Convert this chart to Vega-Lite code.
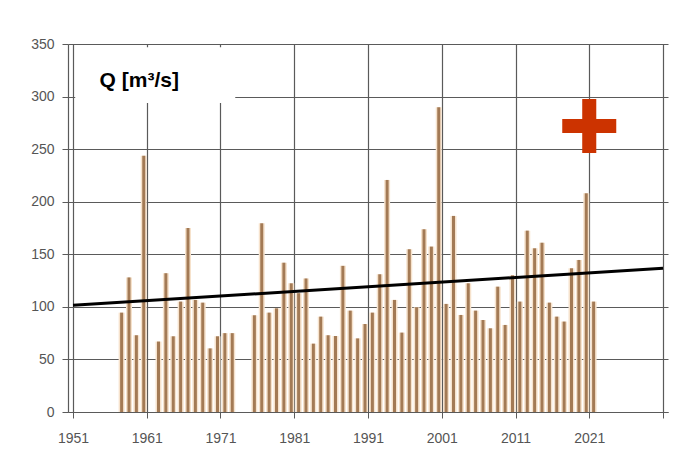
{
  "$schema": "https://vega.github.io/schema/vega-lite/v6.json",
  "width": 600,
  "height": 368,
  "autosize": "none",
  "padding": {"left": 68, "top": 44, "right": 18, "bottom": 64},
  "background": "white",
  "config": {
    "view": {"stroke": null},
    "axis": {
      "labelFont": "Liberation Sans",
      "labelFontSize": 14,
      "labelColor": "#555555",
      "domainColor": "#5a5a5a",
      "tickColor": "#5a5a5a",
      "gridColor": "#5a5a5a",
      "gridOpacity": 1,
      "gridWidth": 1.2,
      "domainWidth": 1.2,
      "tickSize": 6,
      "title": null
    }
  },
  "datasets": {
    "flow": [
      {"year": 1958, "q": 94.5}, {"year": 1959, "q": 128}, {"year": 1960, "q": 73}, {"year": 1961, "q": 243.6},
      {"year": 1963, "q": 67}, {"year": 1964, "q": 132}, {"year": 1965, "q": 72}, {"year": 1966, "q": 105},
      {"year": 1967, "q": 175}, {"year": 1968, "q": 106.6}, {"year": 1969, "q": 104}, {"year": 1970, "q": 60.5},
      {"year": 1971, "q": 72}, {"year": 1972, "q": 75}, {"year": 1973, "q": 75},
      {"year": 1976, "q": 92}, {"year": 1977, "q": 179.5}, {"year": 1978, "q": 94.5}, {"year": 1979, "q": 98.6},
      {"year": 1980, "q": 142}, {"year": 1981, "q": 122.4}, {"year": 1982, "q": 113}, {"year": 1983, "q": 127},
      {"year": 1984, "q": 65}, {"year": 1985, "q": 90.7}, {"year": 1986, "q": 73}, {"year": 1987, "q": 72.3},
      {"year": 1988, "q": 139}, {"year": 1989, "q": 96.4}, {"year": 1990, "q": 70}, {"year": 1991, "q": 83.7},
      {"year": 1992, "q": 94.5}, {"year": 1993, "q": 131}, {"year": 1994, "q": 220.7}, {"year": 1995, "q": 106.6},
      {"year": 1996, "q": 75.5}, {"year": 1997, "q": 154.8}, {"year": 1998, "q": 99.6}, {"year": 1999, "q": 173.8},
      {"year": 2000, "q": 157.3}, {"year": 2001, "q": 289.9}, {"year": 2002, "q": 102.8}, {"year": 2003, "q": 186.5},
      {"year": 2004, "q": 92.3}, {"year": 2005, "q": 122.4}, {"year": 2006, "q": 96.4}, {"year": 2007, "q": 87.5},
      {"year": 2008, "q": 79.6}, {"year": 2009, "q": 119.2}, {"year": 2010, "q": 82.8}, {"year": 2011, "q": 130},
      {"year": 2012, "q": 105}, {"year": 2013, "q": 172.5}, {"year": 2014, "q": 155.7}, {"year": 2015, "q": 161},
      {"year": 2016, "q": 104}, {"year": 2017, "q": 90.7}, {"year": 2018, "q": 86}, {"year": 2019, "q": 136.7},
      {"year": 2020, "q": 144.6}, {"year": 2021, "q": 208}, {"year": 2022, "q": 105}
    ],
    "trend": [{"year": 1951, "q": 101.5}, {"year": 2031, "q": 136.7}],
    "labelbox": [{"x1": 1951.3, "x2": 1973, "y1": 294, "y2": 347, "label": "Q [m³/s]", "tx": 1954.6, "ty": 309}],
    "marker": [{"year": 2021, "q": 272}]
  },
  "encoding": {
    "x": {
      "field": "year", "type": "quantitative",
      "scale": {"domain": [1951, 2031], "nice": false, "zero": false},
      "axis": {
        "values": [1951, 1961, 1971, 1981, 1991, 2001, 2011, 2021, 2031],
        "format": "d", "grid": true, "labelPadding": 13, "labelDx": 4,
        "labelExpr": "datum.value == 2031 ? '' : datum.label"
      }
    },
    "y": {
      "field": "q", "type": "quantitative",
      "scale": {"domain": [0, 350], "nice": false},
      "axis": {"values": [0, 50, 100, 150, 200, 250, 300, 350], "grid": true, "labelPadding": 8}
    }
  },
  "layer": [
    {
      "data": {"name": "labelbox"},
      "mark": {"type": "rect", "fill": "white"},
      "encoding": {
        "x": {"field": "x1", "type": "quantitative"},
        "x2": {"field": "x2"},
        "y": {"field": "y1", "type": "quantitative"},
        "y2": {"field": "y2"}
      }
    },
    {
      "data": {"name": "flow"},
      "mark": {"type": "bar", "size": 6, "color": "#f6e2cc", "xOffset": -3}
    },
    {
      "data": {"name": "flow"},
      "mark": {"type": "bar", "size": 3, "color": "#a37a55", "xOffset": -3}
    },
    {
      "data": {"name": "trend"},
      "mark": {"type": "line", "color": "black", "strokeWidth": 3}
    },
    {
      "data": {"name": "labelbox"},
      "mark": {"type": "text", "font": "Liberation Sans", "fontWeight": "bold", "fontSize": 21, "align": "left", "baseline": "alphabetic", "color": "black"},
      "encoding": {
        "x": {"field": "tx", "type": "quantitative"},
        "y": {"field": "ty", "type": "quantitative"},
        "text": {"field": "label"}
      }
    },
    {
      "data": {"name": "marker"},
      "mark": {"type": "point", "filled": true, "opacity": 1, "color": "#cc3300", "strokeWidth": 0, "size": 2916,
               "shape": "M-1,-0.26H-0.26V-1H0.26V-0.26H1V0.26H0.26V1H-0.26V0.26H-1Z"}
    }
  ]
}
